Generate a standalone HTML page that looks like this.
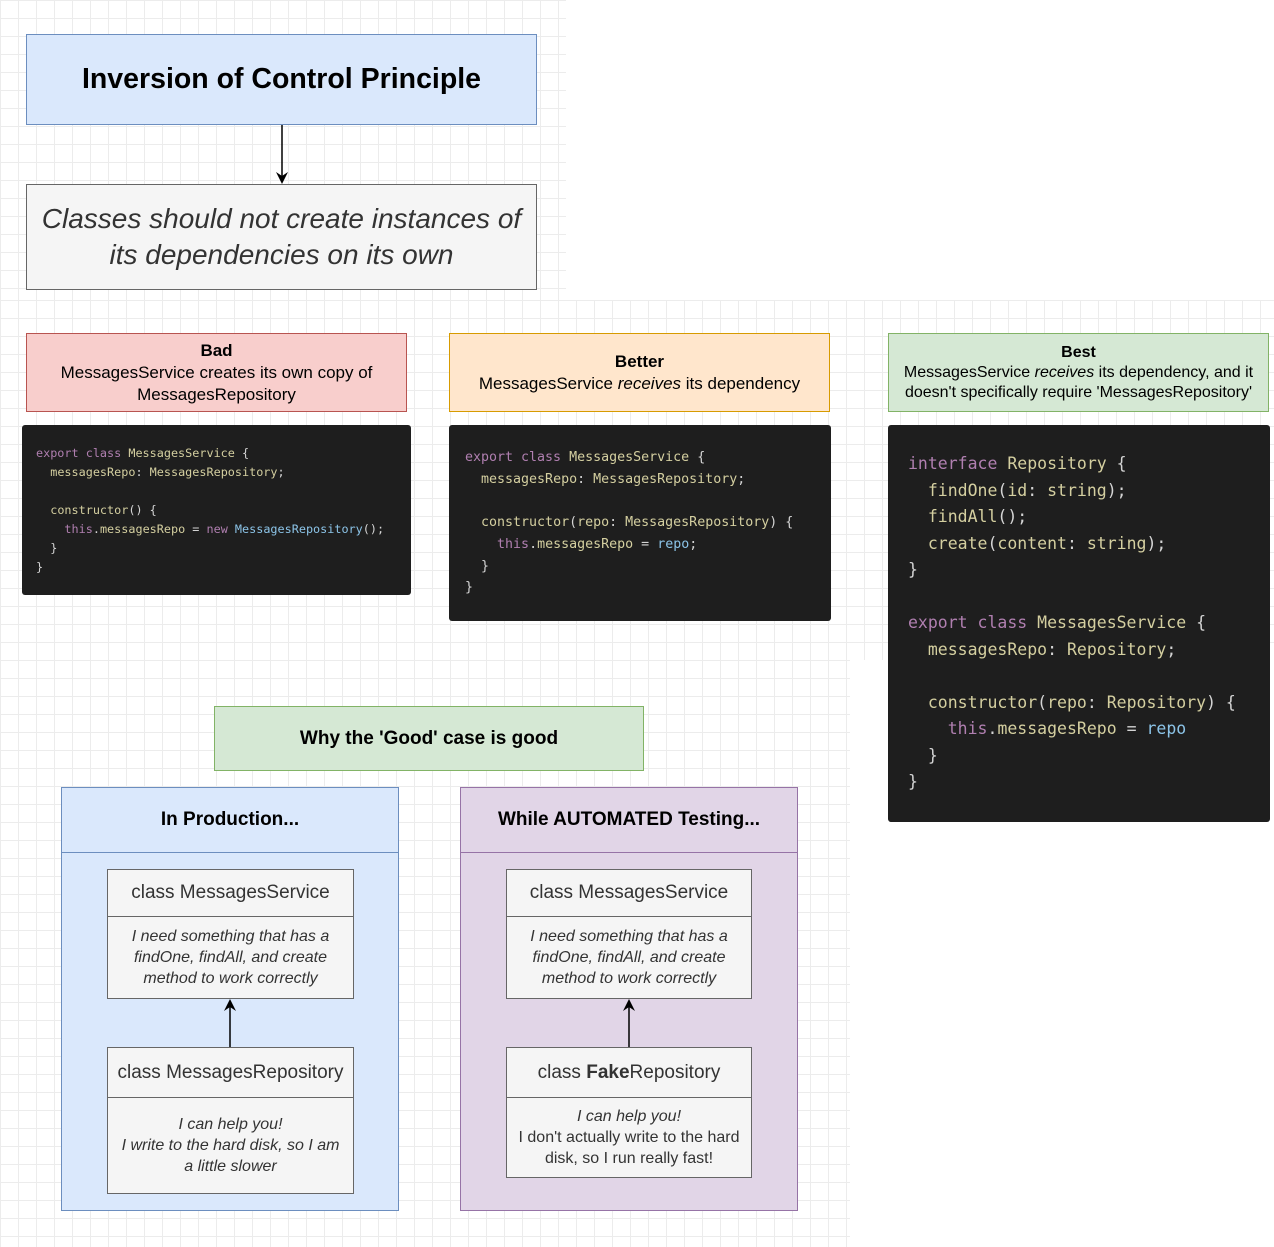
<!DOCTYPE html>
<html><head><meta charset="utf-8"><style>
body{margin:0;width:1274px;height:1247px;position:relative;overflow:hidden;background:#fff;font-family:"Liberation Sans",sans-serif;}
.grid{position:absolute;background-color:#fff;background-image:linear-gradient(#ececec 1px,transparent 1px),linear-gradient(90deg,#ececec 1px,transparent 1px);background-size:18px 18px;}
.b{position:absolute;box-sizing:border-box;display:flex;align-items:center;justify-content:center;text-align:center;}
.code{position:absolute;box-sizing:border-box;background:#1e1e1e;border-radius:3px;font-family:"DejaVu Sans Mono","Liberation Mono",monospace;color:#d4d4d4;white-space:pre;}
.k{color:#b07fb0}.n{color:#d4cfa0}.v{color:#8cc4e8}.w{color:#d4d4d4}
.sec{position:absolute;box-sizing:border-box;}
.inner{position:absolute;box-sizing:border-box;background:#f5f5f5;border:1.5px solid #666;}
.ih{border-bottom:1.5px solid #666;display:flex;align-items:center;justify-content:center;font-size:19px;color:#333;}
.ib{display:flex;align-items:center;justify-content:center;text-align:center;font-style:italic;font-size:16px;color:#333;line-height:21px;}
</style></head><body>
<div class="grid" style="left:0;top:0;width:566px;height:300px"></div>
<div class="grid" style="left:0;top:300px;width:1274px;height:360px"></div>
<div class="grid" style="left:0;top:660px;width:850px;height:587px"></div>

<div class="b" style="left:26px;top:34px;width:511px;height:91px;background:#dae8fc;border:1.5px solid #6c8ebf;font-weight:bold;font-size:28.5px;">Inversion of Control Principle</div>
<svg style="position:absolute;left:0;top:0" width="600" height="300"><line x1="282" y1="125" x2="282" y2="176" stroke="#000" stroke-width="1.5"/><path d="M276 172 L282 184 L288 172 L282 176Z" fill="#000"/></svg>
<div class="b" style="left:26px;top:184px;width:511px;height:106px;background:#f5f5f5;border:1.5px solid #666;font-style:italic;font-size:28px;color:#333;line-height:36px;">Classes should not create instances of<br>its dependencies on its own</div>

<div class="b" style="left:26px;top:333px;width:381px;height:79px;background:#f8cecc;border:1.5px solid #b85450;font-size:17px;line-height:22px;"><div><b>Bad</b><br>MessagesService creates its own copy of<br>MessagesRepository</div></div>
<div class="b" style="left:449px;top:333px;width:381px;height:79px;background:#ffe6cc;border:1.5px solid #d79b00;font-size:17px;line-height:22px;"><div><b>Better</b><br>MessagesService <i>receives</i> its dependency</div></div>
<div class="b" style="left:888px;top:333px;width:381px;height:79px;background:#d5e8d4;border:1.5px solid #82b366;font-size:16px;line-height:20px;"><div><b>Best</b><br>MessagesService <i>receives</i> its dependency, and it<br>doesn't specifically require 'MessagesRepository'</div></div>

<div class="code" style="left:22px;top:425px;width:389px;height:170px;padding:19px 0 0 14px;font-size:11.8px;line-height:19px;"><span class="k">export class</span> <span class="n">MessagesService</span> {
  <span class="n">messagesRepo</span>: <span class="n">MessagesRepository</span>;

  <span class="n">constructor</span>() {
    <span class="k">this</span>.<span class="n">messagesRepo</span> = <span class="k">new</span> <span class="v">MessagesRepository</span>();
  }
}</div>

<div class="code" style="left:449px;top:425px;width:382px;height:196px;padding:22px 0 0 16px;font-size:13.3px;line-height:21.7px;"><span class="k">export class</span> <span class="n">MessagesService</span> {
  <span class="n">messagesRepo</span>: <span class="n">MessagesRepository</span>;

  <span class="n">constructor</span>(<span class="n">repo</span>: <span class="n">MessagesRepository</span>) {
    <span class="k">this</span>.<span class="n">messagesRepo</span> = <span class="v">repo</span>;
  }
}</div>

<div class="code" style="left:888px;top:425px;width:382px;height:397px;padding:26px 0 0 20px;font-size:16.5px;line-height:26.5px;"><span class="k">interface</span> <span class="n">Repository</span> {
  <span class="n">findOne</span>(<span class="n">id</span>: <span class="n">string</span>);
  <span class="n">findAll</span>();
  <span class="n">create</span>(<span class="n">content</span>: <span class="n">string</span>);
}

<span class="k">export class</span> <span class="n">MessagesService</span> {
  <span class="n">messagesRepo</span>: <span class="n">Repository</span>;

  <span class="n">constructor</span>(<span class="n">repo</span>: <span class="n">Repository</span>) {
    <span class="k">this</span>.<span class="n">messagesRepo</span> = <span class="v">repo</span>
  }
}</div>

<div class="b" style="left:214px;top:706px;width:430px;height:65px;background:#d5e8d4;border:1.5px solid #82b366;font-weight:bold;font-size:19px;">Why the 'Good' case is good</div>

<div class="sec" style="left:61px;top:787px;width:338px;height:424px;background:#dae8fc;border:1.5px solid #6c8ebf;">
 <div style="height:64px;border-bottom:1.5px solid #6c8ebf;display:flex;align-items:center;justify-content:center;font-weight:bold;font-size:19px;">In Production...</div>
</div>
<div class="inner" style="left:107px;top:869px;width:247px;height:130px;"><div class="ih" style="height:46px">class MessagesService</div><div class="ib" style="height:80px">I need something that has a<br>findOne, findAll, and create<br>method to work correctly</div></div>
<div class="inner" style="left:107px;top:1047px;width:247px;height:147px;"><div class="ih" style="height:49px">class MessagesRepository</div><div class="ib" style="height:95px">I can help you!<br>I write to the hard disk, so I am<br>a little slower</div></div>

<div class="sec" style="left:460px;top:787px;width:338px;height:424px;background:#e1d5e7;border:1.5px solid #9673a6;">
 <div style="height:64px;border-bottom:1.5px solid #9673a6;display:flex;align-items:center;justify-content:center;font-weight:bold;font-size:19px;">While AUTOMATED Testing...</div>
</div>
<div class="inner" style="left:506px;top:869px;width:246px;height:130px;"><div class="ih" style="height:46px">class MessagesService</div><div class="ib" style="height:80px">I need something that has a<br>findOne, findAll, and create<br>method to work correctly</div></div>
<div class="inner" style="left:506px;top:1047px;width:246px;height:131px;"><div class="ih" style="height:49px">class&nbsp;<b>Fake</b>Repository</div><div class="ib" style="height:79px"><div><i>I can help you!</i><br><span style="font-style:normal">I don't actually write to the hard<br>disk, so I run really fast!</span></div></div></div>

<svg style="position:absolute;left:0;top:0" width="850" height="1247">
<line x1="230" y1="1047" x2="230" y2="1007" stroke="#000" stroke-width="1.5"/><path d="M224 1011 L230 999 L236 1011 L230 1007Z" fill="#000"/>
<line x1="629" y1="1047" x2="629" y2="1007" stroke="#000" stroke-width="1.5"/><path d="M623 1011 L629 999 L635 1011 L629 1007Z" fill="#000"/>
</svg>
</body></html>
